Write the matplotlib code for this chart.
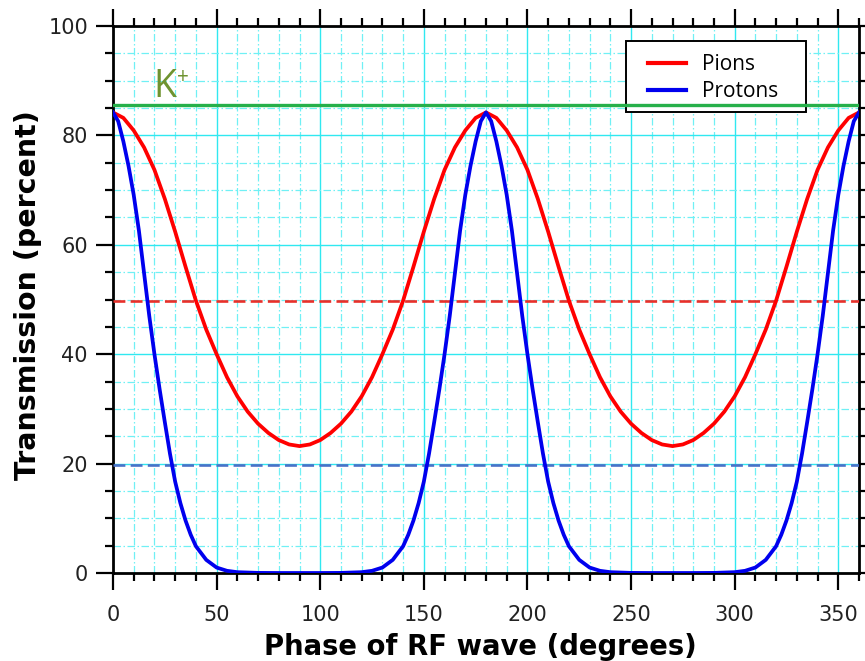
import numpy as np
import matplotlib
matplotlib.use("Agg")
import matplotlib.pyplot as plt
from matplotlib.ticker import MultipleLocator
from matplotlib.patches import Rectangle

# Transmission through the RF separator versus RF phase
pion_phase = np.arange(0, 365, 5)
pion_transmission = [
    84.2, 83.2, 80.9, 77.8, 73.7, 68.4, 62.4, 56.0, 49.8, 44.5, 40.0, 35.8, 32.3, 29.5, 27.3, 25.6, 24.3, 23.5, 23.2,
    23.5, 24.3, 25.6, 27.3, 29.5, 32.3, 35.8, 40.0, 44.5, 49.8, 56.0, 62.4, 68.4, 73.7, 77.8, 80.9, 83.2, 84.2,
    83.2, 80.9, 77.8, 73.7, 68.4, 62.4, 56.0, 49.8, 44.5, 40.0, 35.8, 32.3, 29.5, 27.3, 25.6, 24.3, 23.5, 23.2,
    23.5, 24.3, 25.6, 27.3, 29.5, 32.3, 35.8, 40.0, 44.5, 49.8, 56.0, 62.4, 68.4, 73.7, 77.8, 80.9, 83.2, 84.2,
]

proton_phase = [
    0, 2.5, 5, 7.5, 10, 12.5, 15, 17.5, 20, 22.5, 25, 27.5, 30, 32.5, 35, 37.5, 40,
    45, 50, 55, 60, 70, 80, 90, 100, 110, 120, 125, 130, 135,
    140, 142.5, 145, 147.5, 150, 152.5, 155, 157.5, 160, 162.5, 165, 167.5, 170, 172.5, 175, 177.5, 180,
    182.5, 185, 187.5, 190, 192.5, 195, 197.5, 200, 202.5, 205, 207.5, 210, 212.5, 215, 217.5, 220,
    225, 230, 235, 240, 250, 260, 270, 280, 290, 300, 305, 310, 315,
    320, 322.5, 325, 327.5, 330, 332.5, 335, 337.5, 340, 342.5, 345, 347.5, 350, 352.5, 355, 357.5, 360,
]
proton_transmission = [
    84.2, 82.6, 78.9, 74.4, 69.1, 62.6, 54.8, 47.0, 40.0, 33.6, 27.6, 21.8, 16.7, 12.8, 9.6, 7.0, 4.9,
    2.4, 1.0, 0.4, 0.15, 0.02, 0.0, 0.0, 0.0, 0.02, 0.15, 0.4, 1.0, 2.4,
    4.9, 7.0, 9.6, 12.8, 16.7, 21.8, 27.6, 33.6, 40.0, 47.0, 54.8, 62.6, 69.1, 74.4, 78.9, 82.6, 84.2,
    82.6, 78.9, 74.4, 69.1, 62.6, 54.8, 47.0, 40.0, 33.6, 27.6, 21.8, 16.7, 12.8, 9.6, 7.0, 4.9,
    2.4, 1.0, 0.4, 0.15, 0.02, 0.0, 0.0, 0.0, 0.02, 0.15, 0.4, 1.0, 2.4,
    4.9, 7.0, 9.6, 12.8, 16.7, 21.8, 27.6, 33.6, 40.0, 47.0, 54.8, 62.6, 69.1, 74.4, 78.9, 82.6, 84.2,
]

kaon_level = 85.5
pion_cut = 49.7
proton_cut = 19.8

W, H = 865, 661
fig = plt.figure(figsize=(W / 100, H / 100), dpi=100)
ax_left, ax_right, ax_top, ax_bottom = 113, 859, 26, 573
ax = fig.add_axes([ax_left / W, 1 - ax_bottom / H, (ax_right - ax_left) / W, (ax_bottom - ax_top) / H])

# grid
ax.set_xlim(0, 360)
ax.set_ylim(0, 100)
ax.xaxis.set_major_locator(MultipleLocator(50))
ax.xaxis.set_minor_locator(MultipleLocator(10))
ax.yaxis.set_major_locator(MultipleLocator(20))
ax.yaxis.set_minor_locator(MultipleLocator(5))
ax.grid(which="major", color="#30e8f0", linewidth=1.0, linestyle="-", zorder=0)
ax.grid(which="minor", color="#70f0f5", linewidth=0.9, linestyle=(0, (6, 2, 1.2, 2)), zorder=0)
ax.set_axisbelow(True)

# reference levels
ax.axhline(kaon_level, color="#26b04a", linewidth=2.4, zorder=3)
ax.axhline(pion_cut, color="#e8302a", linewidth=1.9, linestyle=(0, (4.5, 2)), zorder=3)
ax.axhline(proton_cut, color="#4a72c8", linewidth=1.9, linestyle=(0, (4.5, 2)), zorder=3)

# curves
ax.plot(pion_phase, pion_transmission, color="#ff0000", linewidth=2.7, label="Pions",
        zorder=4, solid_joinstyle="round")
ax.plot(proton_phase, proton_transmission, color="#0000ee", linewidth=2.7, label="Protons",
        zorder=4, solid_joinstyle="round")

# kaon level label
kfont = ["Open Sans", "DejaVu Sans"]
ax.text(19.5, 87.1, "K", color="#6f9330", fontsize=27, family=kfont,
        ha="left", va="baseline", zorder=5)
ax.text(33.6, 90.6, "+", color="#6f9330", fontsize=15, family=kfont,
        ha="center", va="center", zorder=5)

for s in ax.spines.values():
    s.set_linewidth(2.0)
    s.set_color("black")
ax.tick_params(which="major", direction="out", length=12, width=1.6,
               top=True, right=True, labelsize=15, pad=6, colors="black")
ax.tick_params(which="minor", direction="out", length=6, width=1.6,
               top=True, right=True)
ax.tick_params(axis="x", which="major", pad=11)
for lab in ax.get_xticklabels() + ax.get_yticklabels():
    lab.set_color("#222222")

# axis titles
ax.set_xlabel("Phase of RF wave (degrees)", fontsize=19.8, fontweight="bold")
ax.xaxis.label.set_va("baseline")
ax.xaxis.set_label_coords(0.4926, -(655 - ax_bottom) / (ax_bottom - ax_top))
ax.set_ylabel("Transmission (percent)", fontsize=20.5, fontweight="bold")
ax.yaxis.label.set_va("baseline")
ax.yaxis.set_label_coords(-(ax_left - 36) / (ax_right - ax_left), 0.508)

# legend: plain black box with the entries inside
box = Rectangle((626 / W, 1 - 112 / H), (806 - 626) / W, (112 - 41) / H,
                transform=fig.transFigure, facecolor="white", edgecolor="black",
                linewidth=1.4, zorder=2.5, clip_on=False)
ax.add_patch(box)
leg = ax.legend(loc="upper left", bbox_to_anchor=(648 / W, 1 - 54 / H),
                bbox_transform=fig.transFigure,
                prop={"family": ["Open Sans", "DejaVu Sans"], "size": 15},
                frameon=False, handlelength=1.8,
                borderpad=0, labelspacing=0.28, handletextpad=0.8, borderaxespad=0)
leg.set_zorder(7)
for line in leg.get_lines():
    line.set_linewidth(3.0)

fig.savefig("out.png", dpi=100)
